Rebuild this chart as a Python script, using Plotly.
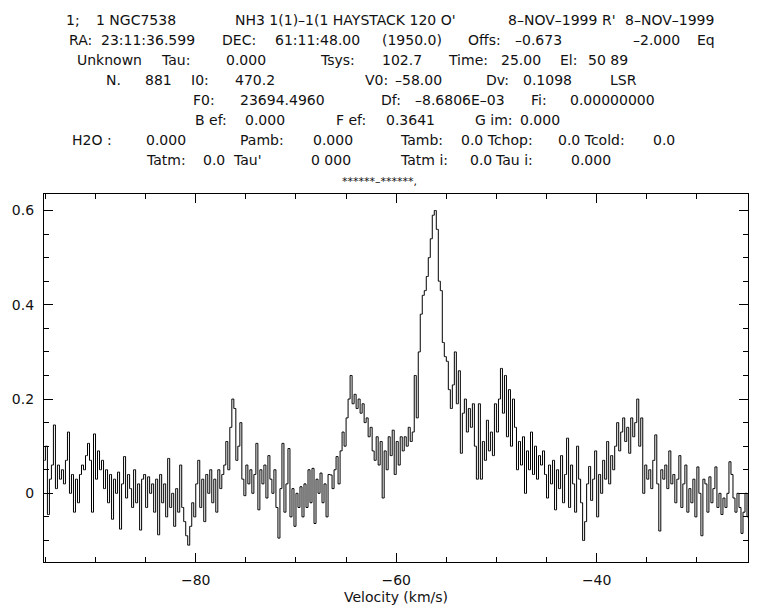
import numpy as np
import plotly.graph_objects as go

# Channel grid (km/s) and antenna temperature values
v_start = -95.1
v_step = 0.2
temperature = [
    0.07, 0.10, -0.045, 0.03, 0.06,
    0.145, 0.01, 0.06, 0.03, 0.05,
    0.02, 0.07, 0.13, 0.00, 0.04,
    -0.04, 0.03, -0.02, 0.04, 0.06,
    0.05, 0.08, 0.106, 0.07, -0.04,
    0.126, 0.03, 0.09, 0.05, 0.07,
    0.01, 0.05, -0.02, 0.04, -0.055,
    0.03, 0.00, 0.045, -0.076, 0.02,
    0.078, -0.01, 0.04, 0.01, -0.03,
    0.05, -0.02, 0.02, -0.078, 0.03,
    0.04, -0.03, 0.035, 0.00, 0.02,
    -0.04, 0.03, -0.088, 0.04, -0.02,
    0.02, -0.05, 0.074, -0.03, 0.00,
    -0.07, 0.01, -0.04, 0.06, -0.03,
    -0.06, -0.09, -0.11, -0.07, -0.02,
    -0.05, 0.02, 0.07, -0.03, 0.03,
    -0.06, 0.04, 0.00, 0.05, -0.02,
    0.03, -0.04, 0.05, 0.01, 0.04,
    0.06, 0.11, 0.05, 0.14, 0.20,
    0.18, 0.07, 0.10, 0.15, 0.03,
    -0.005, 0.06, 0.02, 0.05, 0.00,
    0.04, 0.106, -0.035, 0.05, 0.02,
    0.06, -0.01, 0.08, 0.03, 0.00,
    0.05, -0.03, -0.095, 0.01, 0.106,
    -0.04, 0.02, 0.095, -0.05, 0.01,
    -0.07, 0.00, -0.03, 0.014, -0.05,
    0.02, -0.03, 0.05, -0.02, 0.053,
    -0.064, 0.03, 0.00, 0.043, -0.02,
    0.02, -0.05, 0.04, 0.039, 0.01,
    0.05, 0.078, 0.02, 0.09, 0.13,
    0.10, 0.16, 0.20, 0.25, 0.19,
    0.21, 0.18, 0.20, 0.17, 0.19,
    0.15, 0.16, 0.12, 0.14, 0.09,
    0.07, 0.12, 0.06, 0.11, -0.01,
    0.09, 0.05, 0.12, 0.08, 0.134,
    0.04, 0.11, 0.06, 0.12, 0.09,
    0.12, 0.10, 0.14, 0.11, 0.13,
    0.25, 0.16, 0.30, 0.38, 0.42,
    0.43, 0.46, 0.50, 0.54, 0.59,
    0.60, 0.56, 0.45, 0.43, 0.32,
    0.29, 0.28, 0.22, 0.18, 0.23,
    0.30, 0.19, 0.26, 0.085, 0.17,
    0.20, 0.13, 0.18, 0.14, 0.19,
    0.10, 0.03, 0.19, 0.03, 0.11,
    0.07, 0.155, 0.09, 0.13, 0.08,
    0.19, 0.13, 0.20, 0.265, 0.17,
    0.25, 0.12, 0.22, 0.10, 0.20,
    0.14, 0.05, 0.11, 0.06, 0.12,
    0.00, 0.09, 0.05, 0.13, 0.04,
    0.10, 0.03, 0.08, 0.06, 0.09,
    0.04, -0.01, 0.06, 0.02, 0.07,
    -0.035, 0.05, 0.01, 0.08, -0.02,
    0.04, 0.117, -0.03, 0.06, 0.02,
    -0.04, 0.10, 0.03, -0.02, -0.10,
    -0.06, 0.02, 0.057, -0.015, 0.03,
    0.09, -0.05, 0.04, 0.00, 0.07,
    0.03, 0.11, 0.02, 0.08, 0.05,
    0.10, 0.15, 0.09, 0.13, 0.16,
    0.11, 0.14, 0.085, 0.16, 0.12,
    0.15, 0.20, 0.10, 0.16, 0.00,
    0.06, 0.03, 0.05, 0.01, 0.07,
    0.124, 0.02, -0.08, 0.05, 0.03,
    0.06, 0.01, 0.09, 0.02, 0.04,
    -0.02, 0.03, 0.08, -0.03, 0.02,
    0.06, -0.04, 0.01, -0.02, 0.03,
    -0.05, 0.056, 0.00, -0.09, 0.03,
    0.02, -0.04, 0.035, -0.02, 0.01,
    0.056, -0.03, 0.00, -0.045, -0.01,
    -0.03, 0.00, 0.067, 0.04, -0.01,
    -0.04, 0.00, -0.03, -0.085, -0.04,
    0.00, -0.05,
]
velocity = v_start + v_step * np.arange(len(temperature))

x_range = [-95.14, -24.9]
y_range = [-0.1457, 0.635]
x_ticks = [-80, -60, -40]
y_ticks = [0, 0.2, 0.4, 0.6]
y_tick_labels = ["0", "0.2", "0.4", "0.6"]

D = "\u2013"
# Header fields: (line index, x pixel, text)
header = [
    (0, 66, "1;"), (0, 96, "1 NGC7538"), (0, 235, "NH3 1(1)" + D + "1(1 HAYSTACK 120 O'"),
    (0, 508, "8" + D + "NOV" + D + "1999"), (0, 602, "R'"), (0, 625, "8" + D + "NOV" + D + "1999"),
    (1, 69, "RA:"), (1, 101, "23:11:36.599"), (1, 222, "DEC:"), (1, 275, "61:11:48.00"),
    (1, 382, "(1950.0)"), (1, 468, "Offs:"), (1, 515, D + "0.673"), (1, 633, D + "2.000"),
    (1, 697, "Eq"),
    (2, 77, "Unknown"), (2, 161, "Tau:"), (2, 226, "0.000"), (2, 320, "Tsys:"),
    (2, 382, "102.7"), (2, 448, "Time:"), (2, 501, "25.00"), (2, 560, "El:"), (2, 588, "50 89"),
    (3, 106, "N."), (3, 145, "881"), (3, 191, "I0:"), (3, 235, "470.2"), (3, 365, "V0:"),
    (3, 395, D + "58.00"), (3, 486, "Dv:"), (3, 523, "0.1098"), (3, 610, "LSR"),
    (4, 193, "F0:"), (4, 240, "23694.4960"), (4, 381, "Df:"), (4, 415, D + "8.6806E" + D + "03"),
    (4, 531, "Fi:"), (4, 570, "0.00000000"),
    (5, 195, "B ef:"), (5, 245, "0.000"), (5, 336, "F ef:"), (5, 386, "0.3641"),
    (5, 475, "G im:"), (5, 520, "0.000"),
    (6, 72, "H2O :"), (6, 146, "0.000"), (6, 240, "Pamb:"), (6, 313, "0.000"),
    (6, 400, "Tamb:"), (6, 461, "0.0 Tchop:"), (6, 558, "0.0 Tcold:"), (6, 653, "0.0"),
    (7, 146, "Tatm:"), (7, 203, "0.0"), (7, 233, "Tau'"), (7, 311, "0 000"),
    (7, 400, "Tatm i:"), (7, 470, "0.0"), (7, 495, "Tau i:"), (7, 571, "0.000"),
]

W, H = 768, 605
ml, mr, mt, mb = 44, 20, 194, 43
pw = W - ml - mr
ph = H - mt - mb
font_family = "DejaVu Sans, sans-serif"


def to_plot(px, py):
    return (px - ml) / pw, 1 - (py - mt) / ph


fig = go.Figure()
fig.add_trace(go.Scatter(
    x=velocity, y=temperature, mode="lines",
    line=dict(color="black", width=1, shape="hvh"),
    showlegend=False, hoverinfo="skip",
))

annotations = []
for line, xp, txt in header:
    ax, ay = to_plot(xp, 20 + 20 * line)
    annotations.append(dict(
        text=txt, x=ax, y=ay, xref="paper", yref="paper",
        xanchor="left", yanchor="middle", showarrow=False,
        borderpad=0, borderwidth=0,
        font=dict(size=14, color="#111", family=font_family),
    ))
ax, ay = to_plot(379, 181)
annotations.append(dict(
    text="******" + D + "******,", x=ax, y=ay, xref="paper", yref="paper",
    xanchor="center", yanchor="middle", showarrow=False, borderpad=0,
    font=dict(size=11, color="#111", family=font_family),
))
# axis title placed as annotation beneath the tick labels
ax, ay = to_plot(396, 597)
annotations.append(dict(
    text="Velocity (km/s)", x=ax, y=ay, xref="paper", yref="paper",
    xanchor="center", yanchor="middle", showarrow=False, borderpad=0,
    font=dict(size=14, color="#111", family=font_family),
))

fig.update_layout(
    width=W, height=H,
    margin=dict(l=ml, r=mr, t=mt, b=mb, autoexpand=False),
    paper_bgcolor="white", plot_bgcolor="white",
    font=dict(family=font_family, size=14, color="#111"),
    annotations=annotations,
    xaxis=dict(
        range=x_range, tickvals=x_ticks, ticks="inside", ticklen=9, tickwidth=1.2,
        tickcolor="black", showline=True, linecolor="black", linewidth=1.2,
        mirror="allticks", showgrid=False, zeroline=False, automargin=False,
        tickfont=dict(size=14), ticklabelstandoff=5,
        minor=dict(dtick=5, tick0=0, ticks="inside", ticklen=5, tickwidth=1.2,
                   tickcolor="black", showgrid=False),
    ),
    yaxis=dict(
        range=y_range, tickvals=y_ticks, ticktext=y_tick_labels, ticks="inside",
        ticklen=9, tickwidth=1.2, tickcolor="black", showline=True,
        linecolor="black", linewidth=1.2, mirror="allticks", showgrid=False,
        zeroline=False, automargin=False, tickfont=dict(size=14), ticklabelstandoff=6,
        minor=dict(dtick=0.05, tick0=0, ticks="inside", ticklen=5, tickwidth=1.2,
                   tickcolor="black", showgrid=False),
    ),
)

fig.write_html("out.html", config={"displayModeBar": False},
               post_script="document.body.style.margin='0';")
